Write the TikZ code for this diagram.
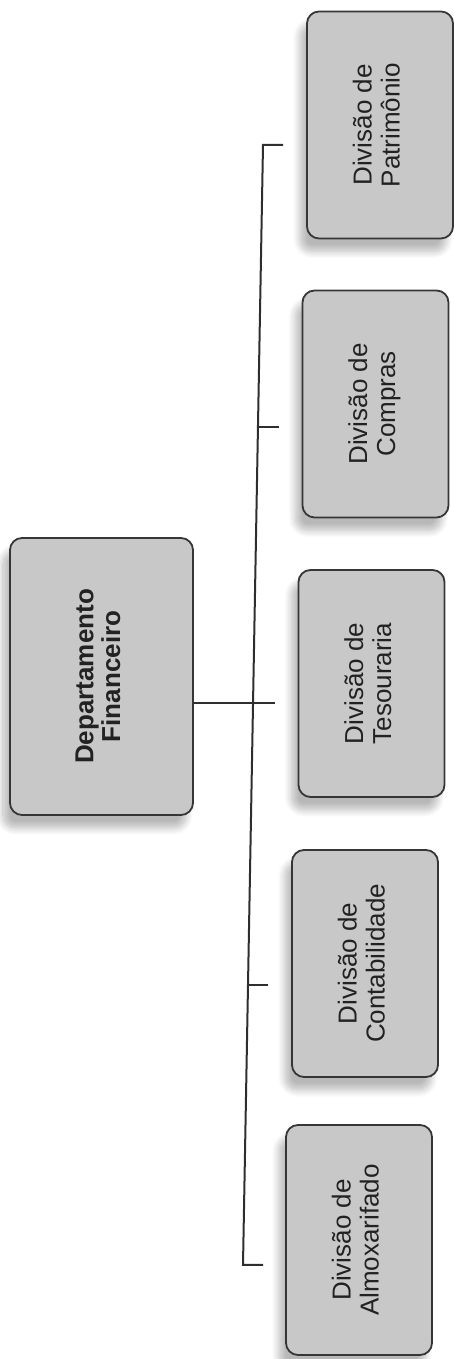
\documentclass[tikz,border=0pt]{standalone}
\usepackage{fontspec}
\usepackage{graphicx}
\setmainfont{Liberation Sans}
\usetikzlibrary{shadows.blur,calc}
\definecolor{boxfill}{HTML}{C8C8C8}
\definecolor{boxline}{HTML}{363636}
\definecolor{linecol}{HTML}{2E2E2E}
\definecolor{txt}{HTML}{222222}
\newcommand{\vlab}[2]{\rotatebox{90}{\begin{tabular}{@{}c@{}}#1\\#2\end{tabular}}}
\tikzset{
  orgbox/.style={draw=boxline, fill=boxfill, line width=1.8pt, rounded corners=12pt,
    inner sep=0pt, minimum width=146pt, minimum height=227pt, text=txt,
    font=\fontsize{26}{28}\selectfont,
    blur shadow={shadow xshift=-7pt, shadow yshift=-13pt, shadow opacity=28, shadow blur radius=7pt, shadow blur steps=10}},
  conn/.style={draw=linecol, line width=2pt}
}
\begin{document}
\begin{tikzpicture}[x=1pt,y=1pt]
\useasboundingbox (0,0) rectangle (454,1359);
% central box
\node[orgbox, minimum width=183pt, minimum height=277pt, font=\bfseries\fontsize{26}{26}\selectfont] (c) at (101.5,682.5) {\vlab{Departamento}{Financeiro}};
% division boxes
\node[orgbox] (b1) at (380,1234) {\vlab{Divisão de}{Patrimônio}};
\node[orgbox] (b2) at (375.5,955) {\vlab{Divisão de}{Compras}};
\node[orgbox] (b3) at (371.5,675.5) {\vlab{Divisão de}{Tesouraria}};
\node[orgbox] (b4) at (365,395.5) {\vlab{Divisão de}{Contabilidade}};
\node[orgbox, minimum height=230pt] (b5) at (359,119) {\vlab{Divisão de}{Almoxarifado}};
% bus coordinates
\coordinate (s1) at (263,1214);
\coordinate (s2) at (258,932);
\coordinate (s4) at (248,374);
\coordinate (s5) at (243,94);
\coordinate (e1) at ($(b1.west |- s1)+(-23,0)$);
\coordinate (e2) at ($(b2.west |- s2)+(-23,0)$);
\coordinate (e3) at ($(b3.west)+(-23,-19.5)$);
\coordinate (e4) at ($(b4.west |- s4)+(-23,0)$);
\coordinate (e5) at ($(b5.west |- s5)+(-22,0)$);
% connectors
\draw[conn] (e1) -- (s1) -- (s5) -- (e5);
\draw[conn] (s2) -- (e2);
\draw[conn] (s4) -- (e4);
\draw[conn] ($(c.east)+(0,-26.5)$) -- (e3);
\end{tikzpicture}
\end{document}
